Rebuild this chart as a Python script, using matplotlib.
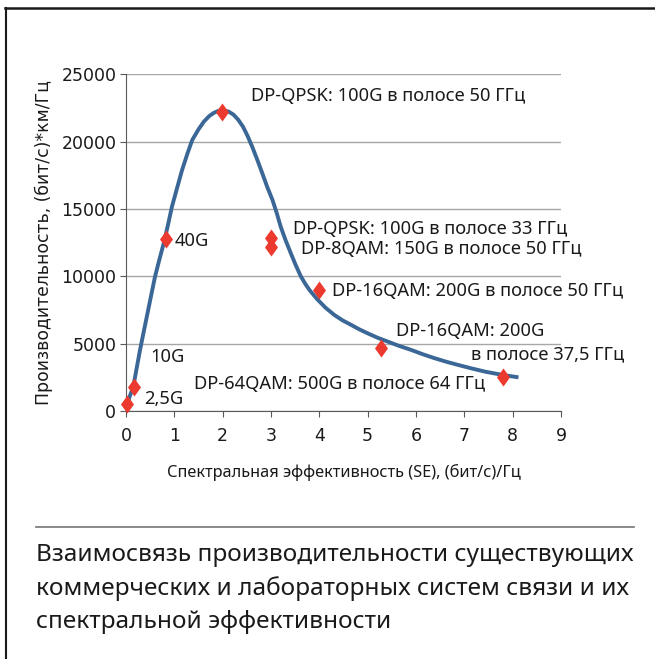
import numpy as np
import matplotlib
matplotlib.use('Agg')
import matplotlib.pyplot as plt
from matplotlib.lines import Line2D

# measured points (red diamonds)
se_pts = [0.03, 0.17, 0.82, 1.98, 2.99, 2.99, 4.0, 5.28, 7.8]
perf_pts = [550, 1840, 12780, 22200, 12830, 12220, 8980, 4680, 2560]

# trend curve
se_curve = [0.05, 0.15, 0.22, 0.29, 0.36, 0.43, 0.52, 0.60, 0.69, 0.78, 0.87, 0.95, 1.06, 1.16,
            1.27, 1.37, 1.50, 1.61, 1.72, 1.82, 1.92, 2.02, 2.12, 2.22, 2.32, 2.42, 2.51, 2.61,
            2.71, 2.82, 2.92, 3.03, 3.12, 3.20, 3.30, 3.41, 3.51, 3.62, 3.71, 3.80, 3.96,
            4.13, 4.31, 4.48, 4.66, 4.83, 5.00, 5.20, 5.42, 5.65, 5.90, 6.14, 6.39, 6.63,
            6.88, 7.15, 7.43, 7.80, 8.12]
perf_curve = [850, 1840, 3200, 4560, 5800, 7020, 8600, 9990, 11250, 12460, 13850, 15170, 16600, 17890,
              19100, 20110, 20900, 21470, 21880, 22130, 22280, 22300, 22220, 22000, 21620, 21100, 20450, 19620,
              18700, 17640, 16650, 15670, 14680, 13690, 12700, 11720, 10850, 9990, 9450, 8980, 8300,
              7680, 7150, 6750, 6410, 6080, 5790, 5470, 5170, 4860, 4560, 4240, 3940, 3680,
              3440, 3190, 2950, 2700, 2530]

labels = ['DP-QPSK: 100G в полосе 50 ГГц', '40G', 'DP-QPSK: 100G в полосе 33 ГГц',
          'DP-8QAM: 150G в полосе 50 ГГц', 'DP-16QAM: 200G в полосе 50 ГГц',
          'DP-16QAM: 200G', 'в полосе 37,5 ГГц', '10G',
          'DP-64QAM: 500G в полосе 64 ГГц', '2,5G']
label_x = [2.58, 1.0, 3.45, 3.62, 4.26, 5.59, 7.13, 0.5, 1.41, 0.37]
label_y = [23400, 12630, 13550, 12000, 8890, 5930, 4220, 4000, 2000, 960]

caption = ['Взаимосвязь производительности существующих',
           'коммерческих и лабораторных систем связи и их',
           'спектральной эффективности']

plt.rcParams['font.family'] = ['DejaVu Sans']
fig = plt.figure(figsize=(6.55, 6.59), dpi=100)
ax = fig.add_axes([0.1924, 0.3756, 0.6641, 0.5121])

ax.set_xlim(0, 9)
ax.set_ylim(0, 25000)
ax.set_xticks(range(0, 10))
ax.set_yticks(range(0, 25001, 5000))
ax.yaxis.grid(True, color='#a6a6a6', linewidth=1.0)
ax.set_axisbelow(True)
for s in ['top', 'right']:
    ax.spines[s].set_visible(False)
ax.spines['left'].set_color('#595959')
ax.spines['bottom'].set_color('#595959')
ax.tick_params(colors='#595959', labelcolor='#1a1a1a', labelsize=12.5, length=4)
ax.tick_params(axis='x', pad=7)
ax.tick_params(axis='y', pad=3)

ax.plot(se_curve, perf_curve, color='#3b6796', linewidth=2.8, solid_capstyle='butt',
        solid_joinstyle='round', zorder=3)
diamond = [(-0.72, 0), (0, 1), (0.72, 0), (0, -1), (-0.72, 0)]
ax.plot(se_pts, perf_pts, linestyle='none', marker=diamond, markersize=13,
        color='#ec3a2f', markeredgewidth=0, zorder=4, clip_on=False)

for t, x, y in zip(labels, label_x, label_y):
    ax.text(x, y, t, fontsize=13.2, family='Noto Sans', color='#1a1a1a', va='center', ha='left')

ax.set_xlabel('Спектральная эффективность (SE), (бит/с)/Гц', fontsize=11.8, family='Noto Sans',
              color='#1a1a1a', labelpad=14)
ax.set_ylabel('Производительность, (бит/с)*км/Гц', fontsize=12.4, color='#1a1a1a', labelpad=6)

# frame and separator
fig.add_artist(Line2D([0.008, 1.0], [1 - 8 / 659, 1 - 8 / 659], color='#1a1a1a', linewidth=1.8))
fig.add_artist(Line2D([0.0092, 0.0092], [0, 1 - 8 / 659], color='#1a1a1a', linewidth=1.5))
fig.add_artist(Line2D([36 / 655, 634 / 655], [1 - 527 / 659, 1 - 527 / 659], color='#808080', linewidth=1.3))

for i, line in enumerate(caption):
    fig.text(36 / 655, 1 - (555 + 33.5 * i) / 659, line, fontsize=17.6, family='Noto Sans',
             color='#1a1a1a', va='center', ha='left')

fig.savefig('out.png', dpi=100)
